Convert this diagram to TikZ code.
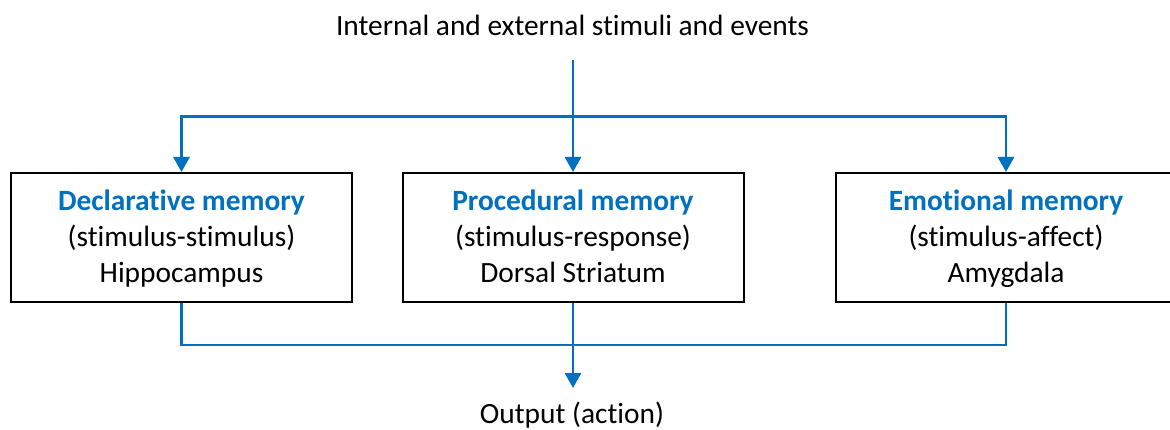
\documentclass[tikz,border=0pt]{standalone}
\usepackage{fontspec}
\setmainfont{Carlito}[Ligatures=NoCommon]
\usetikzlibrary{arrows.meta}
\definecolor{lineblue}{HTML}{0070C0}
\newcommand{\topstrut}{\rule{0pt}{27pt}}
\newcommand{\botstrut}{\rule[-8pt]{0pt}{8pt}}
\tikzset{
  membox/.style={draw=black, line width=2pt, minimum width=341pt, minimum height=129pt,
    inner sep=0pt, align=center, font=\fontsize{29.4}{36}\selectfont},
  conn/.style={draw=lineblue, line width=2.8pt},
  arr/.style={conn, -{Triangle[width=16pt,length=15pt]}},
  lbl/.style={font=\fontsize{29.4}{36}\selectfont, inner sep=0pt}
}
\begin{document}
\begin{tikzpicture}[x=1pt,y=-1pt]
\clip (0,0) rectangle (1170,430);
\fill[white] (0,0) rectangle (1170,430);
\node[lbl, anchor=base] (in) at (572.5,35.7) {Internal and external stimuli and events};
\node[membox] (decl) at (181.5,237.5) {\topstrut{\bfseries\color{lineblue}Declarative memory}\\(stimulus-stimulus)\\Hippocampus\botstrut};
\node[membox] (proc) at (573,237.5) {\topstrut{\bfseries\color{lineblue}Procedural memory}\\(stimulus-response)\\Dorsal Striatum\botstrut};
\node[membox] (emo) at (1006,237.5) {\topstrut{\bfseries\color{lineblue}Emotional memory}\\(stimulus-affect)\\Amygdala\botstrut};
\node[lbl, anchor=base] (out) at (572,423) {Output (action)};
\coordinate (src) at (573,60);
\coordinate (hub) at (573,116.7);
\coordinate (join) at (573,345);
\coordinate (tip) at (573,388);
\draw[arr] (src) -- (proc.north);
\draw[arr] (hub) -| (decl.north);
\draw[arr] (hub) -| (emo.north);
\draw[conn] (decl.south) |- (join) -| (emo.south);
\draw[arr] (proc.south) -- (tip);
\end{tikzpicture}
\end{document}
